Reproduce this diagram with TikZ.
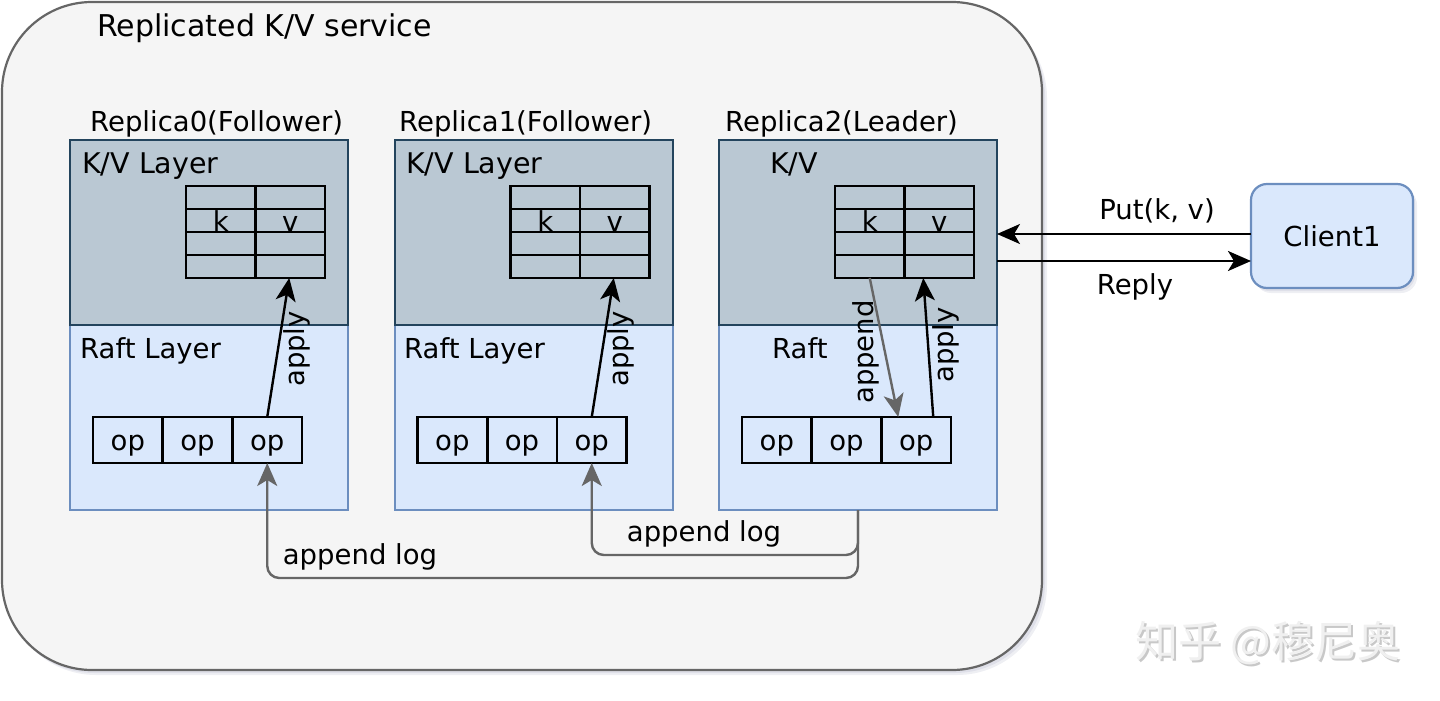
\documentclass[tikz,border=0pt]{standalone}
\usepackage{fontspec}
\setmainfont{DejaVu Sans}
\newfontfamily\cjkfont{Noto Sans CJK SC}
\usetikzlibrary{arrows.meta,calc}
\definecolor{outerfill}{HTML}{F5F5F5}
\definecolor{outerdraw}{HTML}{666666}
\definecolor{kvfill}{HTML}{BAC8D3}
\definecolor{kvdraw}{HTML}{23445D}
\definecolor{raftfill}{HTML}{DAE8FC}
\definecolor{raftdraw}{HTML}{6C8EBF}
\definecolor{graylink}{HTML}{666666}
\definecolor{shadowcol}{HTML}{5A5F8C}
\definecolor{wmtext}{HTML}{F0F0F0}
\definecolor{wmshadow}{HTML}{C8C8C8}
\begin{document}
\begin{tikzpicture}[x=1pt,y=-1pt,
  every node/.style={font=\fontsize{27.5}{33}\selectfont},
  outerbox/.style={draw=outerdraw, fill=outerfill, line width=2.2pt, rounded corners=90pt,
    minimum width=1040pt, minimum height=668pt, inner sep=0pt, outer sep=0pt},
  kvbox/.style={draw=kvdraw, fill=kvfill, line width=2pt, minimum width=278pt,
    minimum height=185pt, inner sep=0pt, outer sep=0pt, anchor=north west},
  raftbox/.style={draw=raftdraw, fill=raftfill, line width=2pt, minimum width=278pt,
    minimum height=185pt, inner sep=0pt, outer sep=0pt, anchor=north west},
  cellbox/.style={draw=black, line width=2.6pt, minimum width=69.5pt, minimum height=23pt,
    inner sep=0pt, outer sep=0pt, anchor=north west, text height=21pt, text depth=0pt},
  opbox/.style={draw=black, line width=2.6pt, minimum width=69.7pt, minimum height=46pt,
    inner sep=0pt, outer sep=0pt, anchor=north west, text height=20pt, text depth=0pt},
  clientbox/.style={draw=raftdraw, fill=raftfill, line width=2.2pt, rounded corners=16pt,
    minimum width=162pt, minimum height=104pt, inner sep=0pt, outer sep=0pt},
  txt/.style={inner sep=0pt, anchor=base west},
  lbl/.style={inner sep=0pt},
  blackarrow/.style={draw=black, line width=2.4pt, -{Stealth[length=23pt,width=20pt,inset=6pt]}},
  grayarrow/.style={draw=graylink, line width=2.4pt, -{Stealth[length=23pt,width=20pt,inset=6pt]}},
  softshadow/.style={fill=shadowcol, opacity=0.10}
]
\useasboundingbox (0,0) rectangle (1440,701);

% outer service box with shadow
\fill[softshadow, rounded corners=90pt] (6,8) rectangle (1047,675);
\fill[softshadow, rounded corners=90pt] (4,6) rectangle (1045,673);
\node[outerbox] (service) at (522,336) {};
\node[txt, font=\fontsize{30}{36}\selectfont] (title) at (97,37) {Replicated K/V service};

% replica titles
\node[txt] (t0) at (90,131) {Replica0(Follower)};
\node[txt] (t1) at (399,131) {Replica1(Follower)};
\node[txt] (t2) at (725,131) {Replica2(Leader)};

\foreach \i/\dx in {0/0,1/324.5,2/649} {
  \node[raftbox] (raft\i) at (70+\dx,325) {};
  \node[kvbox] (kv\i) at (70+\dx,140) {};
  \foreach \r in {1,3,4} {
    \node[cellbox] (cell\i-\r-1) at ({186+\dx},{186+(\r-1)*23}) {};
    \node[cellbox] (cell\i-\r-2) at ({255.5+\dx},{186+(\r-1)*23}) {};
  }
  \node[cellbox] (cell\i-2-1) at ({186+\dx},209) {k};
  \node[cellbox] (cell\i-2-2) at ({255.5+\dx},209) {v};
  \foreach \c in {1,2,3} {
    \node[opbox] (op\i-\c) at ({93+\dx+(\c-1)*69.7},417) {op};
  }
}

% layer labels
\node[txt, font=\fontsize{28.5}{34}\selectfont] (kvl0) at (82,173) {K/V Layer};
\node[txt, font=\fontsize{28.5}{34}\selectfont] (kvl1) at (406,173) {K/V Layer};
\node[txt, font=\fontsize{28.5}{34}\selectfont] (kvl2) at (770,173) {K/V};
\node[txt] (rl0) at (80,358) {Raft Layer};
\node[txt] (rl1) at (404,358) {Raft Layer};
\node[txt] (rl2) at (772,358) {Raft};

% apply / append arrows
\draw[blackarrow] (op0-3.north) -- ($(cell0-4-2.south)+(-1,0)$);
\draw[blackarrow] (op1-3.north) -- ($(cell1-4-2.south)+(-1,0)$);
\draw[blackarrow] ($(op2-3.north)+(17,0)$) -- ($(cell2-4-2.south)+(-16,0)$);
\draw[grayarrow] (cell2-4-1.south) -- ($(op2-3.north)+(-18,0)$);
\node[lbl, rotate=90] (ap0) at (297,349) {apply};
\node[lbl, rotate=90] (ap1) at (621,349) {apply};
\node[lbl, rotate=90] (ap2) at (946,345) {apply};
\node[lbl, rotate=90] (apd2) at (866,352) {append};

% append log connectors
\draw[grayarrow, rounded corners=12pt] (raft2.south) -- ++(0,45) -| (op1-3.south);
\draw[grayarrow, rounded corners=12pt] (raft2.south) -- ++(0,68) -| (op0-3.south);
\node[lbl] (al1) at (704,534) {append log};
\node[lbl] (al0) at (360,557) {append log};

% client
\fill[softshadow, rounded corners=16pt] (1255,189) rectangle (1417,293);
\fill[softshadow, rounded corners=16pt] (1253,187) rectangle (1415,291);
\node[clientbox] (client) at (1332,236) {Client1};
\draw[blackarrow] ($(client.west)+(0,-2)$) -- ($(kv2.east)+(0,1.5)$);
\draw[blackarrow] ($(kv2.east)+(0,28.5)$) -- ($(client.west)+(0,25)$);
\node[lbl] (putl) at (1157,211) {Put(k, v)};
\node[lbl] (repl) at (1135,287) {Reply};

% watermark
\node[txt, text=wmshadow, font=\cjkfont\fontsize{43}{50}\selectfont] (wms) at (1137,659) {知乎 @穆尼奥};
\node[txt, text=wmtext, font=\cjkfont\fontsize{43}{50}\selectfont] (wm) at (1135,657) {知乎 @穆尼奥};
\end{tikzpicture}
\end{document}
